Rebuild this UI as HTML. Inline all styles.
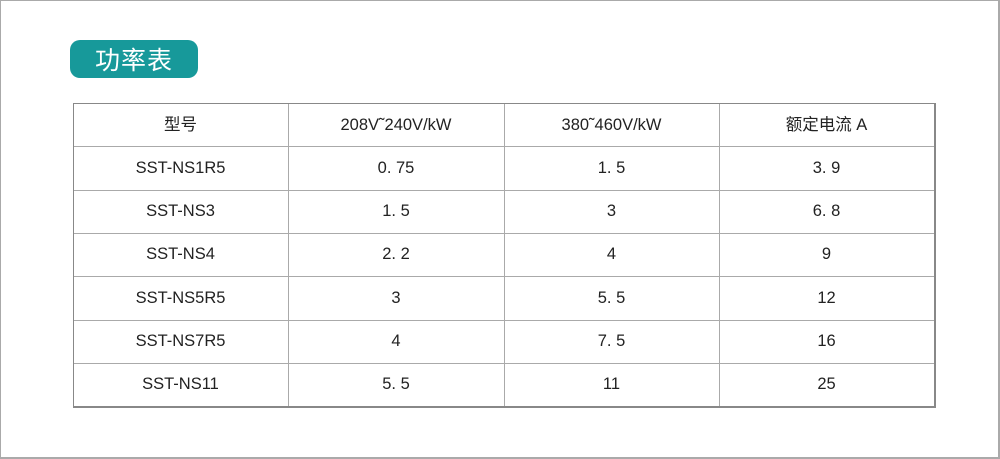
<!DOCTYPE html>
<html><head><meta charset="utf-8"><style>
body{margin:0;width:1000px;height:459px;background:#fff;position:relative;overflow:hidden;font-family:"Liberation Sans","Noto Sans CJK SC",sans-serif;}
.frame{position:absolute;left:0;top:0;width:997px;height:456px;border:1px solid #aaa;border-right-width:2px;border-bottom-width:2px;}
.badge{position:absolute;left:70px;top:40px;width:128px;height:38px;background:#17999a;border-radius:10px;color:#fff;font-size:25px;line-height:38px;text-align:center;font-family:"Noto Sans CJK SC",sans-serif;letter-spacing:1px;}
.box{position:absolute;left:73px;top:103px;width:860px;height:302px;border:1px solid #888;border-right-width:2px;border-bottom-width:2px;}
.h{position:absolute;left:74px;width:860px;height:1px;background:#aaa;}
.v{position:absolute;top:104px;width:1px;height:302px;background:#aaa;}
.c{position:absolute;text-align:center;font-size:16.5px;color:#222;line-height:43px;height:43px;}
</style></head><body>
<div class="frame"></div>
<div class="badge">功率表</div>
<div class="box"></div>
<div class="h" style="top:146px"></div><div class="h" style="top:190px"></div><div class="h" style="top:233px"></div>
<div class="h" style="top:276px"></div><div class="h" style="top:320px"></div><div class="h" style="top:363px"></div>
<div class="v" style="left:288px"></div><div class="v" style="left:504px"></div><div class="v" style="left:719px"></div>
<div id="t"></div>
<script>
var rows=[["型号","208V˜240V/kW","380˜460V/kW","额定电流 A"],["SST-NS1R5","0. 75","1. 5","3. 9"],["SST-NS3","1. 5","3","6. 8"],["SST-NS4","2. 2","4","9"],["SST-NS5R5","3","5. 5","12"],["SST-NS7R5","4","7. 5","16"],["SST-NS11","5. 5","11","25"]];
var ys=[104,147,190,233,277,320,363],xs=[73,288,504,719,934],h="";
rows.forEach(function(r,i){r.forEach(function(t,j){h+='<div class="c" style="top:'+ys[i]+'px;left:'+xs[j]+'px;width:'+(xs[j+1]-xs[j])+'px">'+t+'</div>';});});
document.getElementById("t").innerHTML=h;
</script>
</body></html>
